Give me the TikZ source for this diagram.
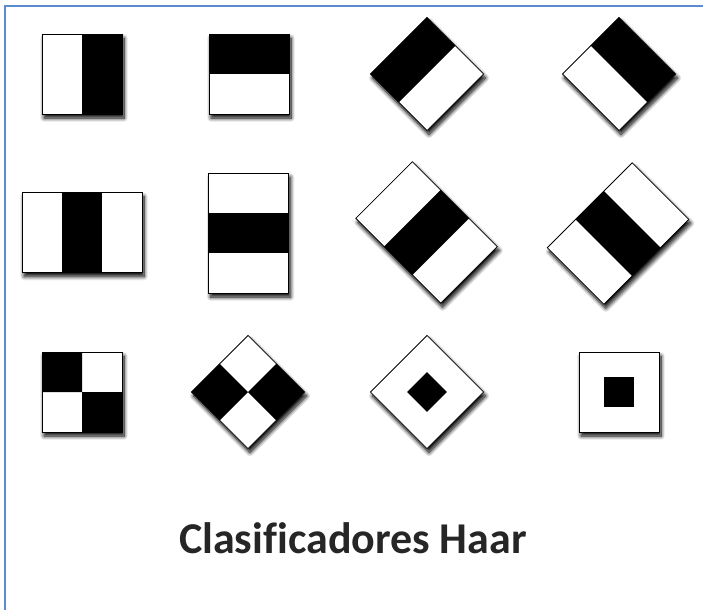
\documentclass[tikz,border=0pt]{standalone}
\usepackage{fontspec}
\newfontfamily\titlefont[Ligatures=NoCommon]{Carlito}
\usetikzlibrary{shadows.blur}
\definecolor{frameblue}{HTML}{5B8BD0}

\begin{document}
\begin{tikzpicture}[x=1pt,y=1pt,
  feat/.style={fill=white, blur shadow={shadow xshift=2pt, shadow yshift=-4pt,
      shadow blur radius=4pt, shadow blur steps=10, shadow opacity=100}},
  rim/.style={draw=black, line width=0.8pt}]
\useasboundingbox (0,0) rectangle (703,-610);
% frame on the left and top
\draw[frameblue, line width=1.8pt] (5,-610) -- (5,-6) -- (703,-6);

% row 1: two halves, turned
\foreach \cx/\ang in {82/-90, 249/0, 427/45, 619/-45} {
  \begin{scope}[shift={(\cx,-74)}, rotate=\ang]
    \path[feat] (-40,-40) rectangle (40,40);
    \fill (-40,0) rectangle (40,40);
    \draw[rim] (-40,-40) rectangle (40,40);
  \end{scope}
}

% row 2: three bands, black one in the middle
\foreach \cx/\cy/\ang in {82/-232.5/0, 248.5/-233/90, 426.5/-232.5/-45, 618/-233.5/45} {
  \begin{scope}[shift={(\cx,\cy)}, rotate=\ang]
    \path[feat] (-60,-40) rectangle (60,40);
    \fill (-20,-40) rectangle (20,40);
    \draw[rim] (-60,-40) rectangle (60,40);
  \end{scope}
}

% row 3: four squares, then a centre square
\foreach \cx/\ang in {82/0, 248/45} {
  \begin{scope}[shift={(\cx,-392)}, rotate=\ang]
    \path[feat] (-40,-40) rectangle (40,40);
    \fill (-40,0) rectangle (0,40) (0,-40) rectangle (40,0);
    \draw[rim] (-40,-40) rectangle (40,40);
  \end{scope}
}
\foreach \cx/\ang/\r in {427/45/14, 619/0/15} {
  \begin{scope}[shift={(\cx,-392)}, rotate=\ang]
    \path[feat] (-40,-40) rectangle (40,40);
    \fill (-\r,-\r) rectangle (\r,\r);
    \draw[rim] (-40,-40) rectangle (40,40);
  \end{scope}
}

\node[anchor=base, font=\titlefont\bfseries\fontsize{44}{52}\selectfont, text=black!85]
  (title) at (353,-553) {Clasificadores Haar};
\end{tikzpicture}
\end{document}
